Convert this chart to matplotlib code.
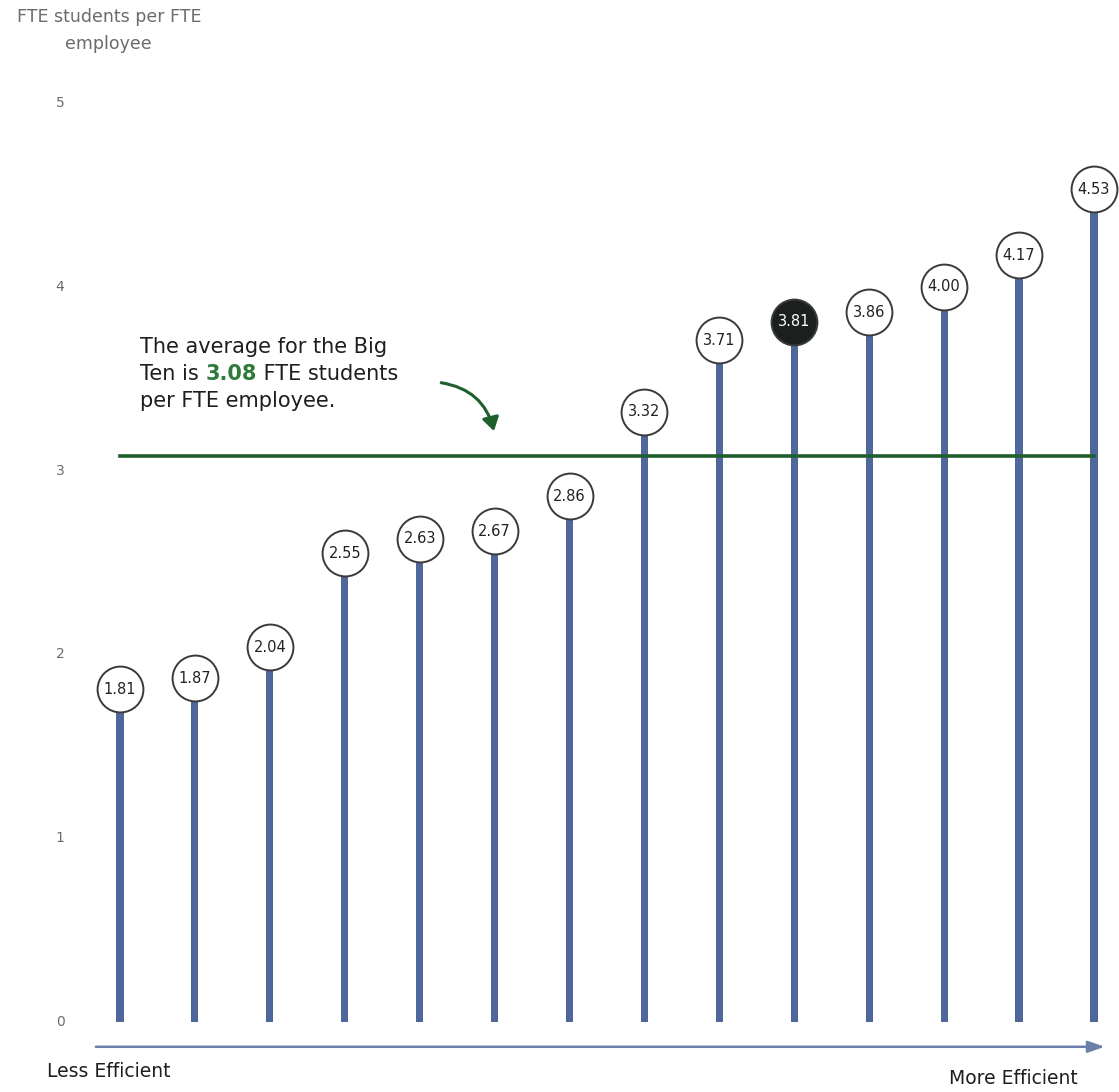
import matplotlib.pyplot as plt
from matplotlib.patches import FancyArrowPatch

# data
values = [1.81, 1.87, 2.04, 2.55, 2.63, 2.67, 2.86, 3.32, 3.71, 3.81, 3.86, 4.00, 4.17, 4.53]
labels = ['1.81', '1.87', '2.04', '2.55', '2.63', '2.67', '2.86', '3.32', '3.71', '3.81', '3.86', '4.00', '4.17', '4.53']
highlight = 9
average = 3.08
y_ticks = [0, 1, 2, 3, 4, 5]

bar_color = '#50679c'
green = '#1f5f2c'
gray = '#6b6b6b'

fig = plt.figure(figsize=(11.19, 10.92), dpi=100)
ax = fig.add_axes([0, 0, 1, 1])
ax.set_xlim(-1.602, 13.334)
ax.set_ylim(-0.381, 5.560)
ax.axis('off')

xs = list(range(len(values)))

# stems
ax.bar(xs, values, width=0.095, color=bar_color, zorder=2)

# average line
ax.plot([xs[0], xs[-1]], [average, average], color=green, lw=2.6, zorder=3)

# circles + labels
for i, (v, lab) in enumerate(zip(values, labels)):
    hl = i == highlight
    ax.plot(i, v, 'o', ms=33, mfc='#1b1f1d' if hl else 'white',
            mec='#3a3a3a', mew=1.4, zorder=4)
    ax.text(i, v, lab, ha='center', va='center', fontsize=10.5,
            color='white' if hl else '#222222', zorder=5)

# y tick labels
for t in y_ticks:
    ax.text(-0.8, t, str(t), ha='center', va='center', fontsize=10, color=gray)

# y axis title
ax.text(-0.15, 5.515, 'FTE students per FTE\nemployee', ha='center', va='top',
        fontsize=12.5, color=gray, linespacing=1.6)

# annotation text
fs = 15
ax.text(0.27, 3.67, 'The average for the Big', fontsize=fs, color='#1e1e1e', va='center')
t1 = ax.text(0.27, 3.525, 'Ten is ', fontsize=fs, color='#1e1e1e', va='center')
t2 = ax.annotate('3.08', xy=(1, 0), xycoords=t1, va='bottom', ha='left',
                 fontsize=fs, color='#2e7a3a', fontweight='bold')
ax.annotate(' FTE students', xy=(1, 0), xycoords=t2, va='bottom', ha='left',
            fontsize=fs, color='#1e1e1e')
ax.text(0.27, 3.38, 'per FTE employee.', fontsize=fs, color='#1e1e1e', va='center')

arrow = FancyArrowPatch((4.25, 3.48), (5.0, 3.2), connectionstyle='arc3,rad=-0.35',
                        arrowstyle='-|>,head_length=8,head_width=5', color=green,
                        lw=2.2, zorder=3)
ax.add_patch(arrow)

# bottom efficiency arrow
ax.annotate('', xy=(13.18, -0.135), xytext=(-0.36, -0.135),
            arrowprops=dict(arrowstyle='-|>,head_length=1.0,head_width=0.35',
                            color='#6d80ac', lw=1.8))
ax.text(-0.98, -0.272, 'Less Efficient', fontsize=13.5, color='#1e1e1e', va='center', ha='left')
ax.text(12.78, -0.31, 'More Efficient', fontsize=13.5, color='#1e1e1e', va='center', ha='right')

fig.savefig('out.png', dpi=100, facecolor='white')
